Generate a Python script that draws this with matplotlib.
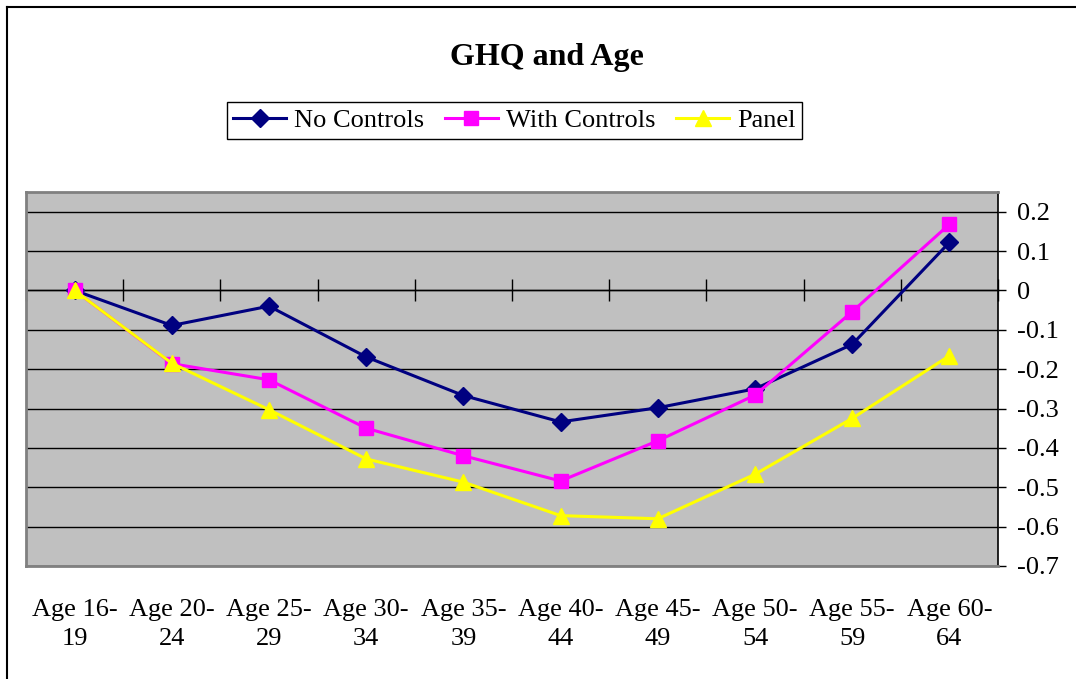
import matplotlib
matplotlib.use("Agg")
import matplotlib.pyplot as plt
from matplotlib.lines import Line2D
import numpy as np

categories = ["Age 16-\n19", "Age 20-\n24", "Age 25-\n29", "Age 30-\n34", "Age 35-\n39",
              "Age 40-\n44", "Age 45-\n49", "Age 50-\n54", "Age 55-\n59", "Age 60-\n64"]
no_controls = [0.0, -0.089, -0.040, -0.169, -0.267, -0.334, -0.298, -0.250, -0.137, 0.122]
with_controls = [0.0, -0.186, -0.227, -0.350, -0.420, -0.484, -0.382, -0.266, -0.054, 0.168]
panel = [0.0, -0.185, -0.303, -0.428, -0.487, -0.572, -0.580, -0.467, -0.325, -0.166]
yticks = [0.2, 0.1, 0, -0.1, -0.2, -0.3, -0.4, -0.5, -0.6, -0.7]
ytick_labels = ["0.2", "0.1", "0", "-0.1", "-0.2", "-0.3", "-0.4", "-0.5", "-0.6", "-0.7"]

plt.rcParams['font.family'] = ['Liberation Serif', 'DejaVu Serif']

fig = plt.figure(figsize=(10.76, 6.79), dpi=100)
ax = fig.add_axes([26/1076, 1-566/679, (998-26)/1076, (566-192)/679])

x = np.arange(len(categories))
ax.plot(x, no_controls, color='#000080', lw=2.2, marker='D', ms=9.5, label='No Controls', zorder=3)
ax.plot(x, with_controls, color='#FF00FF', lw=2.2, marker='s', ms=10, label='With Controls', zorder=4)
ax.plot(x, panel, color='#FFFF00', lw=2.2, marker='^', ms=11.5, label='Panel', zorder=5)

ax.set_xlim(-0.5, len(categories) - 0.5)
ax.set_ylim(-0.7, 0.25)

# gridlines
for v in yticks:
    ax.axhline(v, color='black', lw=1.0, zorder=1)

ax.yaxis.tick_right()
ax.set_yticks(yticks)
ax.set_yticklabels(ytick_labels, fontsize=19)
ax.tick_params(axis='y', direction='out', length=6, width=1, pad=8, colors='black')

ax.set_xticks(x)
ax.set_xticklabels(categories, fontsize=19, linespacing=1.42)
ax.tick_params(axis='x', length=0, pad=24)

for s in ['top', 'left', 'bottom']:
    ax.spines[s].set_color('#808080')
    ax.spines[s].set_linewidth(2.0)
ax.spines['right'].set_color('black')
ax.spines['right'].set_linewidth(1.2)

# category axis crossing at zero with cross tick marks at category boundaries
ax2 = ax.twiny()
ax2.set_xlim(ax.get_xlim())
ax2.spines['bottom'].set_position(('data', 0))
ax2.spines['bottom'].set_visible(True)
ax2.spines['bottom'].set_color('black')
ax2.spines['bottom'].set_linewidth(1.0)
for s in ['top', 'left', 'right']:
    ax2.spines[s].set_visible(False)
ax2.xaxis.set_ticks_position('bottom')
ax2.set_xticks(np.arange(-0.5, len(categories), 1.0))
ax2.set_xticklabels([])
ax2.tick_params(axis='x', direction='inout', length=16, width=1, colors='black')
ax2.set_zorder(0.5)
ax2.patch.set_visible(True)
ax2.patch.set_facecolor('#C0C0C0')
ax.set_zorder(1)
ax.patch.set_visible(False)

fig.text(0.508, 0.915, "GHQ and Age", ha='center', va='center', fontsize=23, fontweight='bold')

leg = ax.legend(loc='center', bbox_to_anchor=(0.478, 0.823), bbox_transform=fig.transFigure,
                ncol=3, fontsize=19,
                frameon=True, fancybox=False, edgecolor='black', framealpha=1,
                handlelength=2.0, handletextpad=0.3, columnspacing=0.8,
                borderpad=0.25, borderaxespad=0)
leg.get_frame().set_linewidth(1.0)

# chart border (left and top visible)
fig.add_artist(Line2D([7/1076, 7/1076], [0, 1-7/679], color='black', lw=1.5, transform=fig.transFigure))
fig.add_artist(Line2D([7/1076, 1], [1-7/679, 1-7/679], color='black', lw=1.5, transform=fig.transFigure))

fig.savefig("out.png", dpi=100)
